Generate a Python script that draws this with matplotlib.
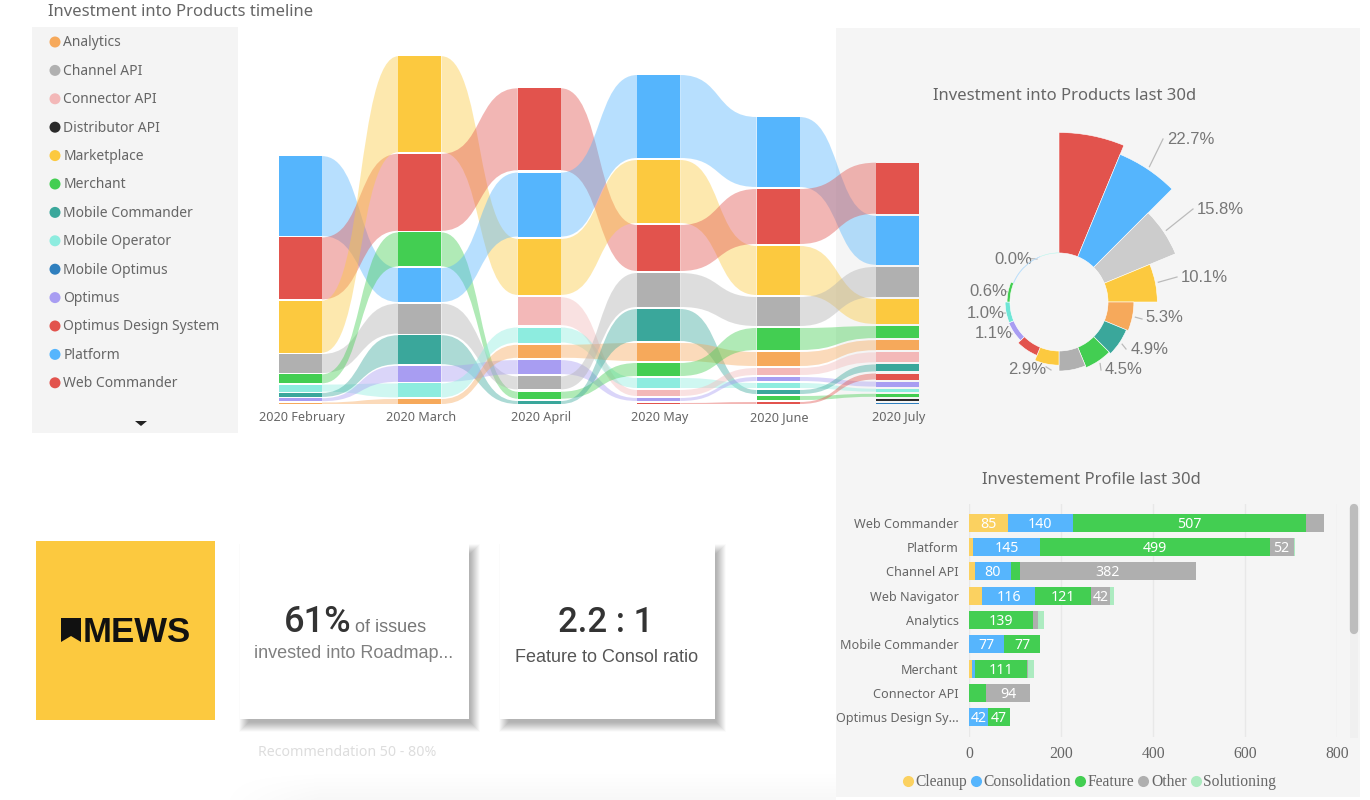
import numpy as np
import matplotlib
matplotlib.use("Agg")
import matplotlib.pyplot as plt
from matplotlib.lines import Line2D
from matplotlib.patches import Circle, PathPatch, Polygon, Rectangle
from matplotlib.path import Path

W, H = 1370, 800
SANS = "Noto Sans"
HELV = "Liberation Sans"
SERIF = "Liberation Serif"
GREY = "#666666"

# timeline data
months = ["2020 February", "2020 March", "2020 April", "2020 May", "2020 June", "2020 July"]
legend_products = ["Analytics", "Channel API", "Connector API", "Distributor API", "Marketplace", "Merchant",
                   "Mobile Commander", "Mobile Operator", "Mobile Optimus", "Optimus", "Optimus Design System",
                   "Platform", "Web Commander"]
product_colors = {"Analytics": "#F6A95B", "Channel API": "#B0B0B0", "Connector API": "#F3B8B8",
                  "Distributor API": "#2A2A2A", "Marketplace": "#FCC93F", "Merchant": "#43CE52",
                  "Mobile Commander": "#3AA79B", "Mobile Operator": "#8DECDF", "Mobile Optimus": "#2F7FBE",
                  "Optimus": "#A89DF2", "Optimus Design System": "#E2534D", "Platform": "#55B5FD",
                  "Web Commander": "#E2534D", "Web Navigator": "#43CE52"}

feb_products = ["Platform", "Web Commander", "Marketplace", "Channel API", "Merchant", "Mobile Operator",
                "Mobile Commander", "Optimus", "Analytics"]
feb_values = [80, 62, 52, 19, 9, 7, 4, 3, 1.5]
mar_products = ["Marketplace", "Web Commander", "Merchant", "Platform", "Channel API", "Mobile Commander",
                "Optimus", "Mobile Operator", "Analytics"]
mar_values = [96, 77, 34, 34, 30, 29, 16, 14, 5]
apr_products = ["Web Commander", "Platform", "Marketplace", "Connector API", "Mobile Operator", "Analytics",
                "Optimus", "Channel API", "Merchant", "Mobile Commander"]
apr_values = [82, 64, 56, 28, 15, 13, 14, 13, 7, 3]
may_products = ["Platform", "Marketplace", "Web Commander", "Channel API", "Mobile Commander", "Analytics",
                "Merchant", "Mobile Operator", "Connector API", "Optimus", "Optimus Design System"]
may_values = [83, 63, 46, 34, 32, 18, 13, 10, 6, 3, 1]
jun_products = ["Platform", "Web Commander", "Marketplace", "Channel API", "Merchant", "Analytics", "Connector API",
                "Optimus", "Mobile Operator", "Mobile Commander", "Web Navigator", "Optimus Design System"]
jun_values = [70, 55, 49, 29, 22, 14, 7, 4, 5, 4, 4, 2]
jul_products = ["Web Commander", "Platform", "Channel API", "Marketplace", "Merchant", "Analytics", "Connector API",
                "Mobile Commander", "Optimus Design System", "Optimus", "Mobile Operator", "Web Navigator",
                "Distributor API", "Mobile Optimus"]
jul_values = [51, 49, 30, 25, 12, 10, 10, 7, 6, 5, 3, 3, 2, 1]

# last 30d rose chart
rose_values = [24.7, 22.7, 15.8, 10.1, 5.3, 4.9, 4.5, 4.1, 2.9, 1.8, 1.1, 1.0, 0.6, 0.1, 0.04, 0.04]
rose_colors = ["#E2534D", "#55B5FD", "#CCCCCC", "#FCC93F", "#F6A95B", "#3AA79B", "#43CE52", "#B0B0B0",
               "#FCC93F", "#E2534D", "#A89DF2", "#6FE5D6", "#43CE52", "#BBDFFB", "#BBDFFB", "#CFF5F0"]

# profile bars
profile_products = ["Web Commander", "Platform", "Channel API", "Web Navigator", "Analytics", "Mobile Commander",
                    "Merchant", "Connector API", "Optimus Design Sy..."]
cleanup = [85, 9, 12, 28, 0, 0, 7, 0, 0]
consolidation = [140, 145, 80, 116, 0, 77, 7, 0, 42]
feature = [507, 499, 18, 121, 139, 77, 111, 38, 47]
other = [40, 52, 382, 42, 11, 0, 4, 94, 0]
solutioning = [0, 4, 0, 9, 12, 0, 13, 0, 0]
profile_series = ["Cleanup", "Consolidation", "Feature", "Other", "Solutioning"]
profile_colors = ["#FBD160", "#56B5FD", "#43CE52", "#AFAFAF", "#ACEBC0"]
profile_ticks = [0, 200, 400, 600, 800]


def axes_px(fig, x0, y0, x1, y1, **kw):
    return fig.add_axes([x0 / W, 1 - y1 / H, (x1 - x0) / W, (y1 - y0) / H], **kw)


def ribbon(ax, x0, x1, a0, a1, b0, b1, color):
    # a0-a1 is the band on the left node, b0-b1 on the right one
    xm0 = x0 + (x1 - x0) * 0.55
    xm1 = x1 - (x1 - x0) * 0.55
    verts = [(x0, a0), (xm0, a0), (xm1, b0), (x1, b0), (x1, b1), (xm1, b1), (xm0, a1), (x0, a1), (x0, a0)]
    codes = [Path.MOVETO, Path.CURVE4, Path.CURVE4, Path.CURVE4, Path.LINETO,
             Path.CURVE4, Path.CURVE4, Path.CURVE4, Path.CLOSEPOLY]
    ax.add_patch(PathPatch(Path(verts, codes), facecolor=color, edgecolor="none", alpha=0.42, zorder=2))


fig = plt.figure(figsize=(W / 100, H / 100), dpi=100, facecolor="white")

# page background, panels and cards are all in pixel coords
bg = axes_px(fig, 0, 0, W, H)
bg.axis("off")
bg.add_patch(Rectangle((32, 27), 206, 406, color="#F4F4F4", lw=0))
bg.add_patch(Rectangle((836, 28), 524, 769, color="#F5F5F5", lw=0))
# faint page shadow along the bottom, fades out to the left
fade_y = np.linspace(0, 0.03, 30).reshape(-1, 1)
fade_x = np.clip(np.linspace(0, 6, 620), 0, 1).reshape(1, -1)
bg.imshow(1 - fade_y * fade_x, extent=(216, 836, 800, 770), cmap="gray", vmin=0, vmax=1, aspect="auto", zorder=0)
bg.set_xlim(0, W)
bg.set_ylim(H, 0)

bg.text(48, 12.5, "Investment into Products timeline", color=GREY, fontsize=12.0, family=SANS, va="center")
for i, name in enumerate(legend_products):
    y = 42 + 28.4 * i
    bg.add_patch(Circle((55, y), 5.5, color=product_colors[name], lw=0))
    bg.text(63.5, y + 1, name, color=GREY, fontsize=10.0, family=SANS, va="center")
bg.add_patch(Polygon([(135, 421), (147, 421), (141, 426)], color="#222222", lw=0))

# logo
bg.add_patch(Rectangle((36, 541), 179, 179, color="#FCC93F", lw=0))
bg.add_patch(Polygon([(61, 618), (81, 618), (81, 642), (71, 636), (61, 642)], color="#111111", lw=0))
bg.text(83, 642, "MEWS", color="#111111", fontsize=25, family=HELV, weight="bold", va="baseline", ha="left")

# cards with a soft shadow
for x0, x1 in [(240, 469), (500, 715)]:
    for e in np.linspace(-4, 6, 20):
        bg.add_patch(Rectangle((x0 + 5 - e, 543 + 7 - e), x1 - x0 + 2 * e, 176 + 2 * e, color="black",
                               alpha=0.016, lw=0))
    bg.add_patch(Rectangle((x0, 543), x1 - x0, 176, color="white", lw=0))

bg.text(284, 632, "61%", color="#333333", fontsize=26, family="Roboto", weight="medium", va="baseline")
bg.text(355, 632, "of issues", color="#777777", fontsize=13, family=HELV, va="baseline")
bg.text(354, 653, "invested into Roadmap...", color="#808080", fontsize=13, family=HELV, va="center", ha="center")
bg.text(606, 632, "2.2 : 1", color="#333333", fontsize=25, family="Roboto", weight="medium", va="baseline", ha="center")
bg.text(607, 657.5, "Feature to Consol ratio", color="#555555", fontsize=13, family=HELV, va="center", ha="center")
bg.text(258, 752, "Recommendation 50 - 80%", color="#DDDDDD", fontsize=10.2, family=SANS, va="center")

# sankey timeline
timeline = [(feb_products, feb_values), (mar_products, mar_values), (apr_products, apr_values),
            (may_products, may_values), (jun_products, jun_values), (jul_products, jul_values)]
month_gaps = [1.3, 1.6, 2.3, 2.0, 2.0, 2.1]
node_w = 43 / 119.3

sk = axes_px(fig, 279, 50, 919, 404)
sk.patch.set_alpha(0)
sk.set_xlim(-0.18, 5.18)
sk.set_ylim(0, 354)
for s in sk.spines.values():
    s.set_visible(False)
sk.set_yticks([])
sk.set_xticks(np.arange(len(months)) + 0.011, months, color=GREY, fontsize=9.1, family=SANS, va="baseline")
sk.tick_params(axis="x", length=0, pad=12)

spans = []
for (names, values), gap in zip(timeline, month_gaps):
    top = sum(values) + gap * (len(values) - 1)
    pos = {}
    for name, v in zip(names, values):
        pos[name] = (top - v, top)
        top -= v + gap
    spans.append(pos)

for m, pos in enumerate(spans):
    for name, (lo, hi) in pos.items():
        sk.add_patch(Rectangle((m - node_w / 2, lo), node_w, hi - lo, color=product_colors[name], lw=0, zorder=3))
        if m + 1 < len(spans) and name in spans[m + 1]:
            lo2, hi2 = spans[m + 1][name]
            ribbon(sk, m + node_w / 2, m + 1 - node_w / 2, lo, hi, lo2, hi2, product_colors[name])

# rose chart
bg.text(1065, 96, "Investment into Products last 30d", color=GREY, fontsize=12.0, family=SANS, va="center", ha="center")
hole = 10.05
rose_r = 36.9
cx, cy, half = 1059, 302, 180
rose = axes_px(fig, cx - half, cy - half, cx + half, cy + half, projection="polar")
rose.patch.set_alpha(0)
rose.set_theta_zero_location("N")
rose.set_theta_direction(-1)
rose.set_ylim(0, rose_r)
rose.axis("off")
step = 2 * np.pi / len(rose_values)
for i, (v, c) in enumerate(zip(rose_values, rose_colors)):
    ec, lw = ("white", 0.4) if v > 0.5 else (c, 0.3)
    rose.bar(i * step, v, width=step, bottom=hole, align="edge", color=c, edgecolor=ec, linewidth=lw)

# which slice is labelled, where the leader ends and where the text sits
rose_labels = [(1, (1163, 139), (1191, 140)), (2, (1193, 209), (1220, 209)), (3, (1177, 277), (1204, 278)),
               (4, (1142, 319), (1164, 318)), (5, (1126, 349), (1150, 349)), (6, (1101, 370), (1124, 370)),
               (8, (1051, 370), (1027, 370)), (10, (1012, 334), (994, 334)), (11, (1006, 313), (986, 313)),
               (12, (1008, 292), (988, 292)), (14, (1037, 259), (1013, 260))]
for i, end, text_xy in rose_labels:
    a = (i + 0.5) * step
    r = (rose_values[i] + hole) / rose_r * half + 3
    bg.add_line(Line2D([cx + r * np.sin(a), end[0]], [cy - r * np.cos(a), end[1]], color="#BBBBBB", lw=0.9))
    bg.text(text_xy[0], text_xy[1], "%.1f%%" % rose_values[i], color="#777777", fontsize=12, family=HELV,
            va="center", ha="center", zorder=5)

# stacked bars
bg.text(1091, 480, "Investement Profile last 30d", color=GREY, fontsize=12.0, family=SANS, va="center", ha="center")
pb = axes_px(fig, 969, 504, 1337.3, 737)
pb.patch.set_alpha(0)
pb.set_xlim(0, 800)
pb.set_ylim(8.82, -0.78)
for s in pb.spines.values():
    s.set_visible(False)
pb.set_axisbelow(True)
pb.grid(axis="x", color="#E8E8E8", lw=1)
pb.set_xticks(profile_ticks, [str(t) for t in profile_ticks], color=GREY, fontsize=11.3, family=SERIF)
rows = np.arange(len(profile_products))
pb.set_yticks(rows, profile_products, color=GREY, fontsize=9.1, family=SANS)
pb.tick_params(axis="both", length=0)
pb.tick_params(axis="y", pad=7.5)
pb.tick_params(axis="x", pad=6.5)

left = np.zeros(len(rows))
handles = []
for label, vals, c in zip(profile_series, [cleanup, consolidation, feature, other, solutioning], profile_colors):
    bars = pb.barh(rows, vals, left=left, height=0.742, color=c, edgecolor="none")
    for b, v in zip(bars, vals):
        if v >= 41:
            pb.text(b.get_x() + v / 2, b.get_y() + b.get_height() / 2 + 0.06, str(v), color="white",
                    fontsize=10.2, family=SANS, ha="center", va="center")
    left += np.array(vals)
    handles.append(Line2D([], [], ls="", marker="o", ms=8, mfc=c, mec="none", label=label))

fig.legend(handles=handles, loc="center", bbox_to_anchor=(1089 / W, 1 - 782 / H), ncol=5, frameon=False,
           prop={"family": SERIF, "size": 11.2}, labelcolor=GREY, columnspacing=0.2, handlelength=0.75,
           handletextpad=0.12, borderpad=0)

# scrollbar of the bar panel
bg.add_patch(Rectangle((1350, 504), 8, 234, color="#F0F0F0", lw=0))
bg.add_line(Line2D([1354, 1354], [508, 630], color="#BDBDBD", lw=6, solid_capstyle="round"))

fig.savefig("out.png", dpi=100)
